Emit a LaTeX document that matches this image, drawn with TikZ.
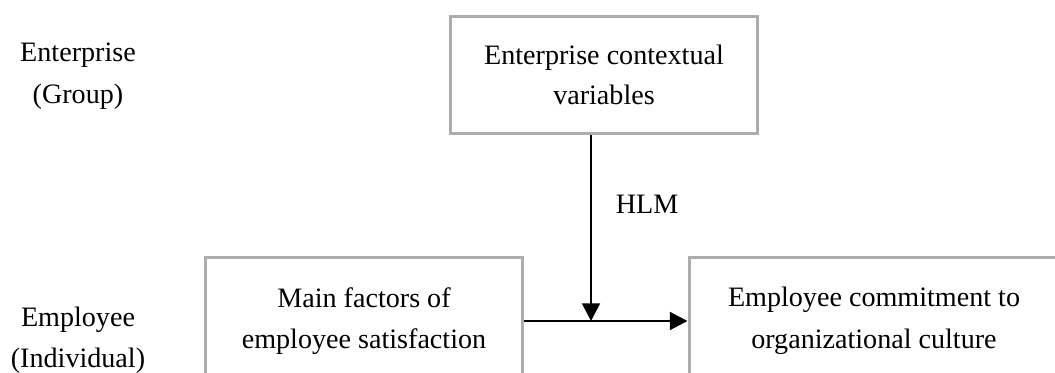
\documentclass[tikz,border=0pt]{standalone}
\usepackage{fontspec}
\setmainfont{Liberation Serif}
\usetikzlibrary{arrows.meta}

\tikzset{
  box/.style={draw=black!32, line width=1.7pt, align=center,
    minimum height=2.36cm, font=\fontsize{16}{23.6}\selectfont},
  level/.style={align=center, font=\fontsize{16}{23.6}\selectfont},
  link/.style={line width=1.6pt, -{Triangle[length=10pt, width=10pt]}}
}

\begin{document}
\begin{tikzpicture}[x=0.02cm, y=-0.02cm]
  \useasboundingbox (0,0) rectangle (1055,372);
  \clip (0,0) rectangle (1055,372);

  \node[level] (group) at (78,76) {Enterprise\\(Group)};
  \node[level] (indiv) at (78,340) {Employee\\(Individual)};

  \node[box, minimum width=6.16cm] (ctx) at (604,75) {Enterprise contextual\\[-1pt]variables};
  \node[box, minimum width=6.36cm, minimum height=2.56cm] (sat) at (364,321) {Main factors of\\employee satisfaction};
  \node[box, minimum width=7.4cm, minimum height=2.56cm] (com) at (874,321) {Employee commitment to\\organizational culture};

  \coordinate (s) at (sat.east |- 0,321);
  \coordinate (t) at (591,0);
  \draw[link] (s) -- (com.west |- s);
  \draw[link] (t |- ctx.south) -- node[level, anchor=west, xshift=10pt, pos=0.37] {HLM} (t |- s);
\end{tikzpicture}
\end{document}
